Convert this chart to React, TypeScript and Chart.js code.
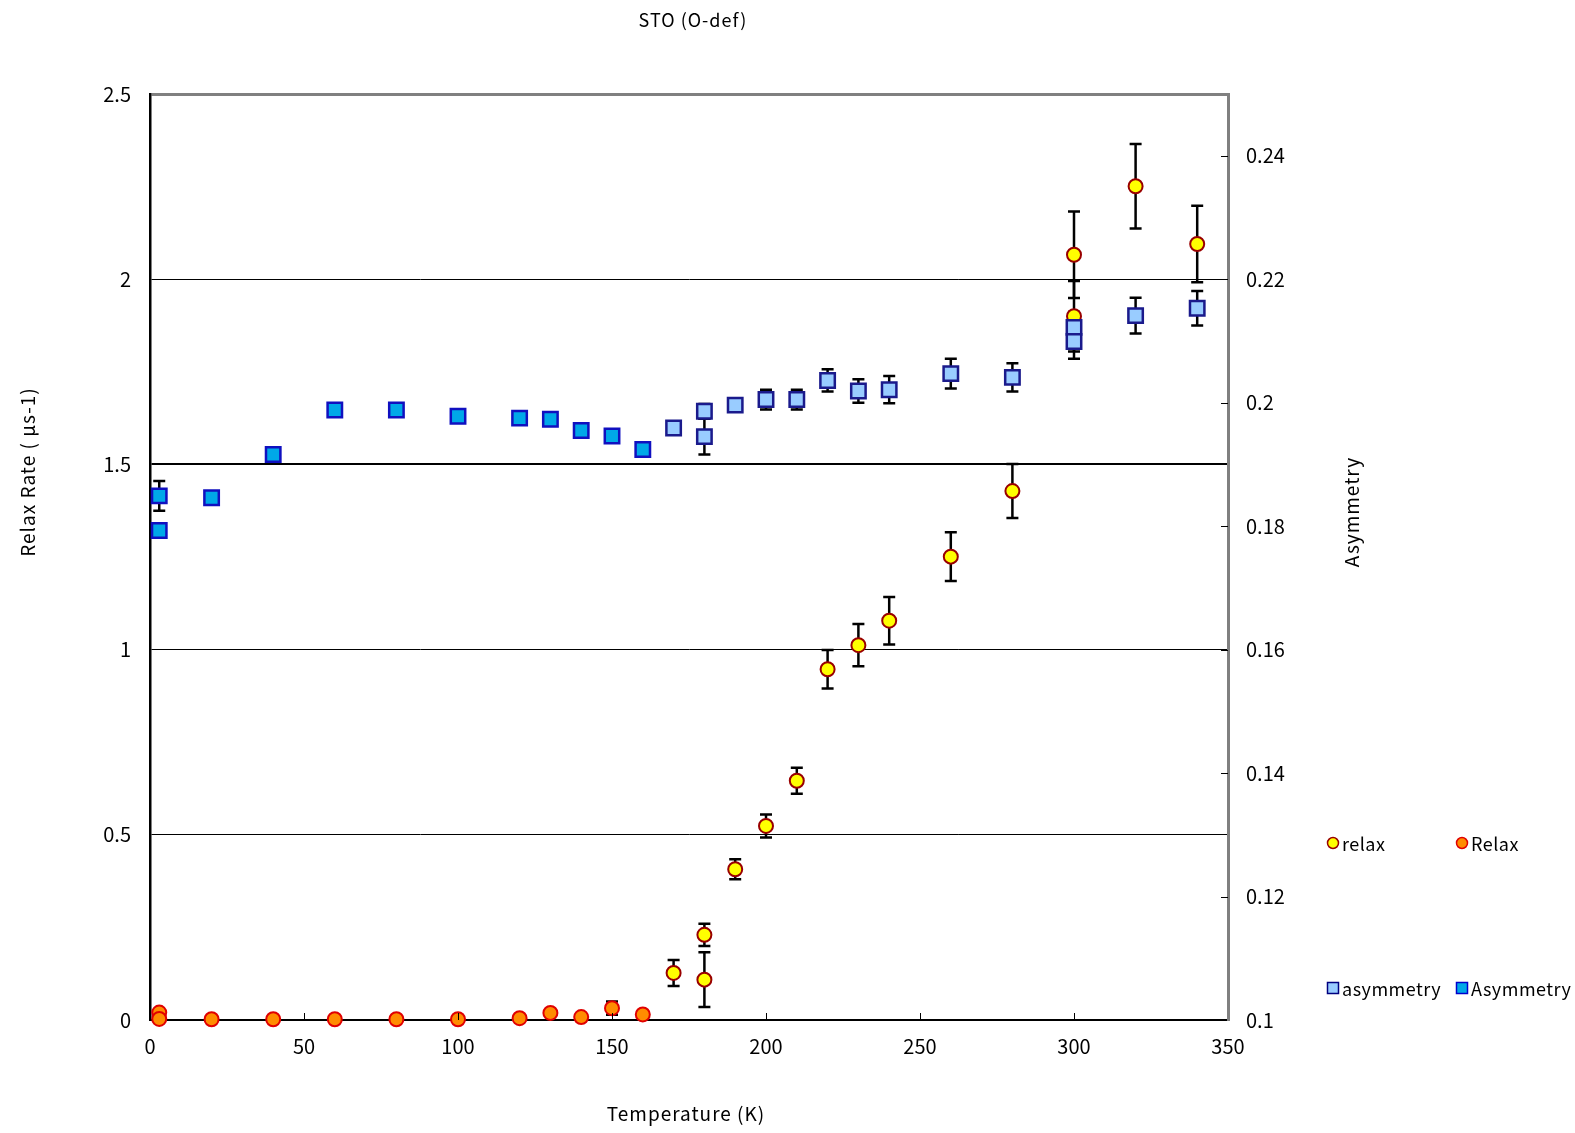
import React, { useEffect, useRef } from "react";
import { Chart, registerables } from "chart.js";

Chart.register(...registerables);

// ---- data ----
const relaxT = [170, 180, 180, 190, 200, 210, 220, 230, 240, 260, 280, 300, 300, 320, 340];
const relaxV = [0.127, 0.23, 0.109, 0.407, 0.524, 0.646, 0.947, 1.012, 1.078, 1.251, 1.428, 2.066, 1.9, 2.251, 2.095];
const relaxErr = [0.035, 0.03, 0.074, 0.027, 0.031, 0.035, 0.052, 0.057, 0.064, 0.066, 0.073, 0.117, 0.095, 0.114, 0.103];

const RelaxT = [3, 3, 20, 40, 60, 80, 100, 120, 130, 140, 150, 160];
const RelaxV = [0.02, 0.003, 0.002, 0.002, 0.002, 0.002, 0.002, 0.005, 0.019, 0.008, 0.032, 0.015];
const RelaxErr = [0, 0, 0, 0, 0, 0, 0, 0, 0, 0, 0.018, 0];

const asymT = [170, 180, 180, 190, 200, 210, 220, 230, 240, 260, 280, 300, 300, 320, 340];
const asymV = [0.1959, 0.1986, 0.1945, 0.1996, 0.2005, 0.2005, 0.2036, 0.2019, 0.2021, 0.2047, 0.2041, 0.2122, 0.2099, 0.2141, 0.2153];
const asymErr = [0, 0.0012, 0.0029, 0.0008, 0.0016, 0.0016, 0.0018, 0.0019, 0.0022, 0.0024, 0.0023, 0.0025, 0.0028, 0.0029, 0.0028];

const AsymT = [3, 3, 20, 40, 60, 80, 100, 120, 130, 140, 150, 160];
const AsymV = [0.1849, 0.1793, 0.1846, 0.1916, 0.1988, 0.1988, 0.1978, 0.1975, 0.1973, 0.1955, 0.1946, 0.1924];
const AsymErr = [0.0024, 0, 0, 0, 0, 0, 0, 0, 0, 0, 0, 0];

const xTicks = [0, 50, 100, 150, 200, 250, 300, 350];
const yTicks = [0, 0.5, 1, 1.5, 2, 2.5];
const y2Ticks = [0.1, 0.12, 0.14, 0.16, 0.18, 0.2, 0.22, 0.24];

const chartTitle = "STO (O-def)";
const xTitle = "Temperature (K)";
const yTitle = "Relax Rate ( μs-1)";
const y2Title = "Asymmetry";
const legendNames = ["relax", "Relax", "asymmetry", "Asymmetry"];

const FONT = '"Noto Sans CJK JP", "Noto Sans", sans-serif';

const pts = (xs: number[], ys: number[]) => xs.map((x, i) => ({ x, y: ys[i] }));

const errorBarPlugin = {
  id: "errbars",
  beforeDatasetsDraw(chart: any) {
    const ctx = chart.ctx;
    const xs = chart.scales.x;
    ctx.save();
    ctx.strokeStyle = "#000";
    ctx.lineWidth = 2.5;
    chart.data.datasets.forEach((ds: any) => {
      const errs = ds.errors as number[];
      if (!errs) return;
      const ys = chart.scales[ds.yAxisID];
      ds.data.forEach((p: any, i: number) => {
        const e = errs[i];
        if (!e) return;
        const px = xs.getPixelForValue(p.x);
        const y1 = ys.getPixelForValue(p.y - e);
        const y2 = ys.getPixelForValue(p.y + e);
        ctx.beginPath();
        ctx.moveTo(px, y1);
        ctx.lineTo(px, y2);
        ctx.moveTo(px - 6, y1);
        ctx.lineTo(px + 6, y1);
        ctx.moveTo(px - 6, y2);
        ctx.lineTo(px + 6, y2);
        ctx.stroke();
      });
    });
    ctx.restore();
  },
};

const decorPlugin = {
  id: "decor",
  afterDraw(chart: any) {
    const ctx = chart.ctx;
    const a = chart.chartArea;
    const xs = chart.scales.x;
    const y2 = chart.scales.y2;
    ctx.save();
    // inward tick marks
    ctx.strokeStyle = "#000";
    ctx.lineWidth = 1;
    xTicks.slice(1, -1).forEach((v) => {
      const px = Math.round(xs.getPixelForValue(v)) + 0.5;
      ctx.beginPath();
      ctx.moveTo(px, a.bottom);
      ctx.lineTo(px, a.bottom - 7);
      ctx.stroke();
    });
    y2Ticks.slice(1).forEach((v) => {
      const py = Math.round(y2.getPixelForValue(v)) + 0.5;
      ctx.beginPath();
      ctx.moveTo(a.right, py);
      ctx.lineTo(a.right - 7, py);
      ctx.stroke();
    });

    ctx.fillStyle = "#000";
    ctx.textAlign = "center";
    ctx.textBaseline = "middle";
    (ctx as any).letterSpacing = "1px";
    ctx.font = `18px ${FONT}`;
    ctx.fillText(chartTitle, 693, 20);
    ctx.font = `19px ${FONT}`;
    ctx.fillText(xTitle, 686, 1114);
    ctx.save();
    ctx.translate(28, 472);
    ctx.rotate(-Math.PI / 2);
    ctx.fillText(yTitle, 0, 0);
    ctx.restore();
    ctx.save();
    ctx.translate(1352, 512);
    ctx.rotate(-Math.PI / 2);
    ctx.fillText(y2Title, 0, 0);
    ctx.restore();

    // legend
    const items = [
      { x: 1333, y: 843, t: legendNames[0], shape: "c", fill: "#FFFF00", stroke: "#990000" },
      { x: 1462, y: 843, t: legendNames[1], shape: "c", fill: "#FF8C00", stroke: "#E00000" },
      { x: 1333, y: 988, t: legendNames[2], shape: "s", fill: "#99CCFF", stroke: "#000080" },
      { x: 1462, y: 988, t: legendNames[3], shape: "s", fill: "#00A8E8", stroke: "#0000CC" },
    ];
    ctx.font = `18px ${FONT}`;
    (ctx as any).letterSpacing = "0.5px";
    ctx.textAlign = "left";
    items.forEach((it) => {
      ctx.fillStyle = it.fill;
      ctx.strokeStyle = it.stroke;
      ctx.lineWidth = 1.5;
      ctx.beginPath();
      if (it.shape === "c") {
        ctx.arc(it.x, it.y, 5.5, 0, Math.PI * 2);
      } else {
        ctx.rect(it.x - 5.5, it.y - 5.5, 11, 11);
      }
      ctx.fill();
      ctx.stroke();
      ctx.fillStyle = "#000";
      ctx.fillText(it.t, it.x + 9, it.y + 1);
    });
    ctx.restore();
  },
};

export default function App() {
  const ref = useRef<HTMLCanvasElement | null>(null);
  useEffect(() => {
    if (!ref.current) return;
    const chart = new Chart(ref.current, {
      type: "scatter",
      data: {
        datasets: [
          {
            label: legendNames[2],
            data: pts(asymT, asymV),
            errors: asymErr,
            yAxisID: "y2",
            order: 0,
            pointStyle: "rect",
            pointRadius: 10.2,
            pointBackgroundColor: "#99CCFF",
            pointBorderColor: "#1A1A8C",
            pointBorderWidth: 2.5,
            clip: false,
          } as any,
          {
            label: legendNames[3],
            data: pts(AsymT, AsymV),
            errors: AsymErr,
            yAxisID: "y2",
            order: 1,
            pointStyle: "rect",
            pointRadius: 10.2,
            pointBackgroundColor: "#00A8E8",
            pointBorderColor: "#1010C0",
            pointBorderWidth: 2.5,
            clip: false,
          } as any,
          {
            label: legendNames[0],
            data: pts(relaxT, relaxV),
            errors: relaxErr,
            yAxisID: "y",
            order: 2,
            pointStyle: "circle",
            pointRadius: 7,
            pointBackgroundColor: "#FFFF00",
            pointBorderColor: "#990000",
            pointBorderWidth: 2,
            clip: false,
          } as any,
          {
            label: legendNames[1],
            data: pts(RelaxT, RelaxV),
            errors: RelaxErr,
            yAxisID: "y",
            order: 3,
            pointStyle: "circle",
            pointRadius: 7,
            pointBackgroundColor: "#FF8C00",
            pointBorderColor: "#E00000",
            pointBorderWidth: 2,
            clip: false,
          } as any,
        ],
      },
      options: {
        animation: false,
        responsive: false,
        maintainAspectRatio: false,
        layout: { padding: { top: 94, left: 0, right: 0, bottom: 0 } },
        plugins: {
          legend: { display: false },
          title: { display: false },
          tooltip: { enabled: false },
        },
        scales: {
          x: {
            type: "linear",
            min: 0,
            max: 350,
            afterBuildTicks: (s: any) => {
              s.ticks = xTicks.map((v) => ({ value: v }));
            },
            afterFit: (s: any) => {
              s.height = 113;
            },
            grid: { display: false, drawTicks: false },
            border: { display: true, color: "#000", width: 2 },
            ticks: {
              padding: 14,
              color: "#000",
              font: { family: FONT, size: 20 },
              maxRotation: 0,
              callback: (v: any) => String(v),
            },
          },
          y: {
            type: "linear",
            position: "left",
            min: 0,
            max: 2.5,
            afterBuildTicks: (s: any) => {
              s.ticks = yTicks.map((v) => ({ value: v }));
            },
            afterFit: (s: any) => {
              s.width = 150;
            },
            grid: {
              drawTicks: false,
              color: (c: any) => (c.tick && c.tick.value === 2.5 ? "#808080" : "#000"),
              lineWidth: (c: any) =>
                c.tick && c.tick.value === 2.5 ? 3 : c.tick && c.tick.value === 1.5 ? 2 : 1,
            },
            border: { display: true, color: "#000", width: 2.5 },
            ticks: {
              padding: 19,
              color: "#000",
              font: { family: FONT, size: 20 },
              callback: (v: any) => String(Number(Number(v).toFixed(2))),
            },
          },
          y2: {
            type: "linear",
            position: "right",
            min: 0.1,
            max: 0.25,
            afterBuildTicks: (s: any) => {
              s.ticks = y2Ticks.map((v) => ({ value: v }));
            },
            afterFit: (s: any) => {
              s.width = 347;
            },
            grid: { display: false, drawTicks: false },
            border: { display: true, color: "#808080", width: 3 },
            ticks: {
              padding: 18,
              color: "#000",
              font: { family: FONT, size: 20 },
              callback: (v: any) => String(Number(Number(v).toFixed(2))),
            },
          },
        },
      } as any,
      plugins: [errorBarPlugin, decorPlugin],
    });
    return () => chart.destroy();
  }, []);

  return (
    <div
      style={{
        position: "absolute",
        left: 0,
        top: 0,
        width: 1575,
        height: 1133,
        background: "#fff",
      }}
    >
      <canvas
        ref={ref}
        width={1575}
        height={1133}
        style={{ display: "block", width: 1575, height: 1133 }}
      />
    </div>
  );
}
